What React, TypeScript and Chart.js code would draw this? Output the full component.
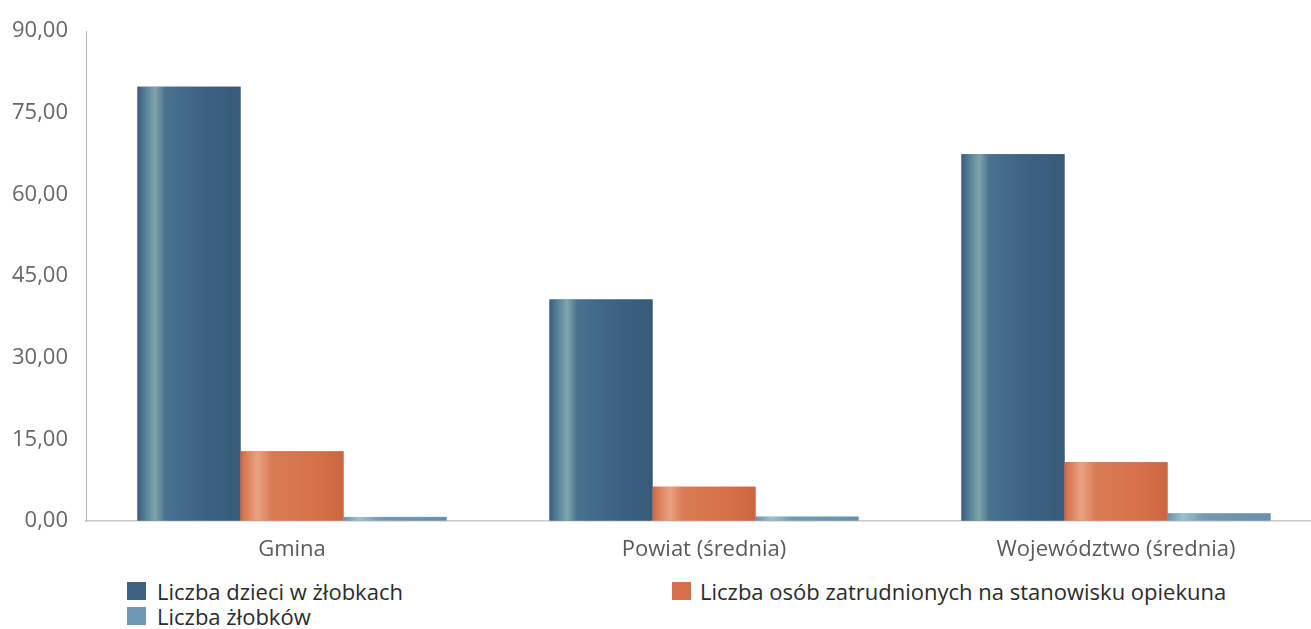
import React, { useEffect, useRef } from "react";
import { Chart, registerables } from "chart.js";

Chart.register(...registerables);

const categories = ["Gmina", "Powiat (średnia)", "Województwo (średnia)"];
const dzieci = [79.8, 40.7, 67.4];
const opiekunowie = [12.8, 6.3, 10.8];
const zlobki = [0.75, 0.8, 1.4];
const seriesNames = [
  "Liczba dzieci w żłobkach",
  "Liczba osób zatrudnionych na stanowisku opiekuna",
  "Liczba żłobków",
];
const yTicks = [0, 15, 30, 45, 60, 75, 90];

const baseColors = ["#3d6282", "#d5704a", "#7097b3"];
const gradStops: [number, string][][] = [
  [[0, "#3a5e7e"], [0.1, "#5f8a9c"], [0.17, "#80a5ab"], [0.27, "#4a7290"], [0.6, "#3e6383"], [1, "#375a79"]],
  [[0, "#cc6842"], [0.1, "#e28d6c"], [0.17, "#eaa182"], [0.3, "#d97a54"], [0.7, "#d5714b"], [1, "#cb6640"]],
  [[0, "#6a91ae"], [0.15, "#9fc0d0"], [0.35, "#7499b4"], [1, "#6a8fab"]],
];

const FONT = "'Open Sans', 'Noto Sans', sans-serif";

const shadePlugin = {
  id: "shade",
  afterDatasetsDraw(chart: any) {
    const ctx = chart.ctx;
    chart.data.datasets.forEach((_: any, di: number) => {
      const meta = chart.getDatasetMeta(di);
      meta.data.forEach((el: any) => {
        const left = el.x - el.width / 2;
        const right = el.x + el.width / 2;
        const top = Math.min(el.y, el.base);
        const h = Math.abs(el.base - el.y);
        const g = ctx.createLinearGradient(left, 0, right, 0);
        gradStops[di].forEach(([o, c]) => g.addColorStop(o, c));
        ctx.save();
        ctx.fillStyle = g;
        ctx.fillRect(left, top, right - left, h);
        ctx.restore();
      });
    });
  },
};

function ChartView() {
  const ref = useRef<HTMLCanvasElement | null>(null);
  useEffect(() => {
    if (!ref.current) return;
    const chart = new Chart(ref.current, {
      type: "bar",
      data: {
        labels: categories,
        datasets: [
          { label: seriesNames[0], data: dzieci, backgroundColor: baseColors[0] },
          { label: seriesNames[1], data: opiekunowie, backgroundColor: baseColors[1] },
          { label: seriesNames[2], data: zlobki, backgroundColor: baseColors[2] },
        ],
      },
      options: {
        animation: false,
        responsive: false,
        maintainAspectRatio: false,
        layout: { padding: { top: 24, right: 2, left: 0, bottom: 0 } },
        datasets: { bar: { categoryPercentage: 0.75, barPercentage: 1 } },
        plugins: { legend: { display: false }, tooltip: { enabled: false } },
        scales: {
          x: {
            grid: { display: false, drawTicks: false },
            border: { display: true, color: "#c9c9c9", width: 1.5 },
            ticks: { color: "#5a5a5a", font: { family: FONT, size: 22 }, padding: 16 },
            afterFit: (s: any) => { s.height = 49; },
          },
          y: {
            min: 0,
            max: 90,
            afterBuildTicks: (s: any) => { s.ticks = yTicks.map((v) => ({ value: v })); },
            grid: { color: "rgba(0,0,0,0)", drawTicks: false },
            border: { display: true, color: "#b5b5b5", width: 1 },
            ticks: {
              color: "#666666",
              font: { family: FONT, size: 22 },
              padding: 18,
              callback: (v: any) => Number(v).toFixed(2).replace(".", ","),
            },
            afterFit: (s: any) => { s.width = 86; },
          },
        },
      },
      plugins: [shadePlugin],
    } as any);
    return () => chart.destroy();
  }, []);
  return <canvas ref={ref} width={1324} height={570} style={{ display: "block", width: 1324, height: 570 }} />;
}

export default function App() {
  const legendText: React.CSSProperties = {
    fontFamily: FONT,
    fontSize: 22,
    color: "#2b2b2b",
    whiteSpace: "nowrap",
    position: "absolute",
    lineHeight: "26px",
  };
  const sq = (c: string, l: number, t: number): React.CSSProperties => ({
    position: "absolute",
    left: l,
    top: t,
    width: 19,
    height: 18,
    background: c,
  });
  return (
    <div style={{ position: "fixed", left: 0, top: 0, width: 1311, height: 629, overflow: "hidden", background: "#fff" }}>
      <ChartView />
      <div style={sq(baseColors[0], 127, 582)} />
      <div style={{ ...legendText, left: 157, top: 578 }}>{seriesNames[0]}</div>
      <div style={sq(baseColors[2], 127, 607)} />
      <div style={{ ...legendText, left: 157, top: 603 }}>{seriesNames[2]}</div>
      <div style={sq(baseColors[1], 672, 582)} />
      <div style={{ ...legendText, left: 700, top: 578 }}>{seriesNames[1]}</div>
    </div>
  );
}
